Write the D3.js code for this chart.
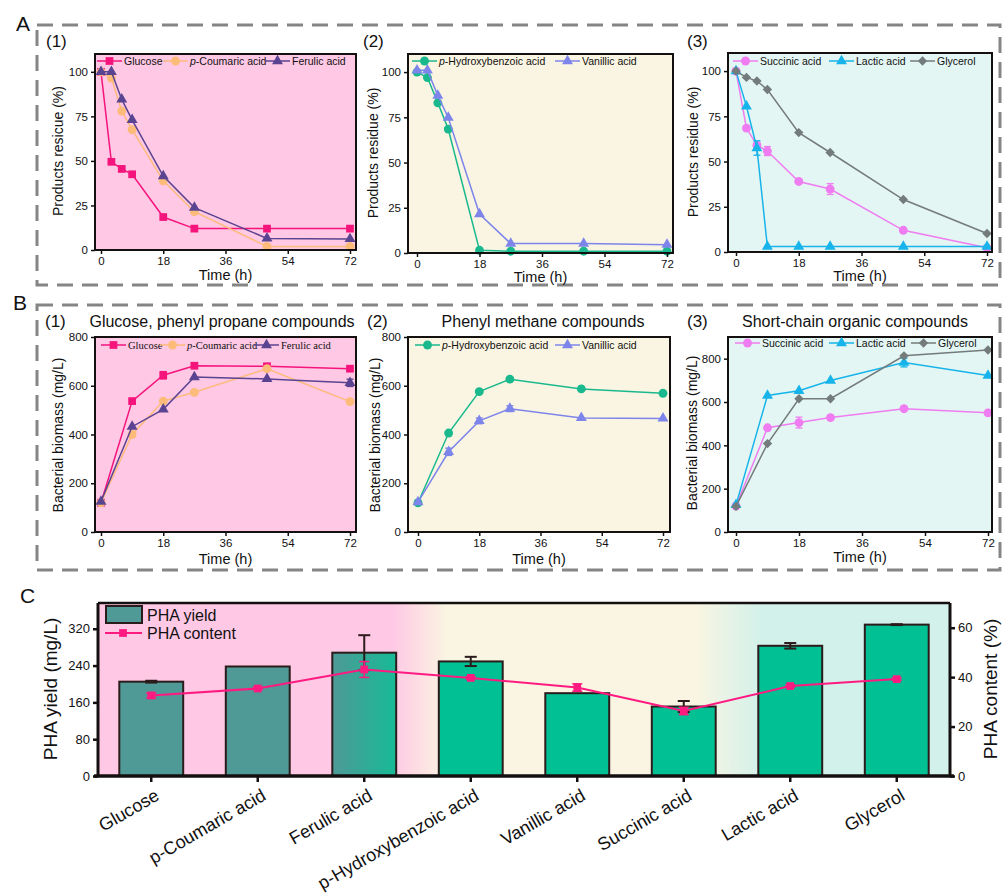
<!DOCTYPE html>
<html>
<head>
<meta charset="utf-8">
<script src="https://cdn.jsdelivr.net/npm/d3@7"></script>
<style>
  body { margin: 0; background: #fff; }
  svg text { font-family: "Liberation Sans", Arial, sans-serif; fill: #111; }
</style>
</head>
<body>
<svg id="fig" width="1005" height="894"></svg>
<script>
// time points (h)
const timesA = [0, 3, 6, 9, 18, 27, 48, 72];
const timesB = [0, 9, 18, 27, 48, 72];
const timeTicks = [0, 18, 36, 54, 72];

// substrate names
const names = ["Glucose", "p-Coumaric acid", "Ferulic acid", "p-Hydroxybenzoic acid",
               "Vanillic acid", "Succinic acid", "Lactic acid", "Glycerol"];

// A: products residue (%)
const resGlucose   = [100, 49.5, 45.5, 42.5, 18.5, 12, 12, 12];
const resCoumaric  = [100, 96.5, 78, 67.5, 38.8, 21.5, 2, 2];
const resFerulic   = [100, 100, 84.5, 73, 41.5, 23.8, 6.5, 6.2];
const resHydroxy   = [100, 97, 83, 68.5, 1.5, 1, 1, 1];
const resVanillic  = [101, 101, 87, 74.8, 21.5, 5.2, 5.2, 4.6];
const resSuccinic  = [100, 68.5, 59, 55.8, 39, 34.8, 12, 2.3];
const resSuccinicErr = [1.5, 1, 1.5, 2.5, 1, 3, 0.5, 0.5];
const resLactic    = [100, 80.5, 57.5, 3, 3, 3, 3, 3];
const resLacticErr = [0, 0, 4, 0, 0, 0, 0, 0];
const resGlycerol  = [100, 96.5, 94.5, 89.8, 66, 55, 29, 10.2];

// B: bacterial biomass (mg/L)
const bioGlucose    = [120, 537, 643, 682, 680, 670];
const bioGlucoseErr = [0, 0, 15, 0, 10, 0];
const bioCoumaric   = [120, 400, 537, 573, 670, 535];
const bioFerulic    = [125, 432, 503, 636, 628, 612];
const bioFerulicErr = [0, 0, 0, 0, 0, 15];
const bioHydroxy    = [120, 406, 576, 627, 587, 569];
const bioVanillic   = [123, 329, 456, 506, 468, 466];
const bioVanillicErr = [0, 15, 12, 12, 0, 0];
const bioSuccinic   = [120, 481, 505, 528, 569, 550];
const bioSuccinicErr = [0, 0, 25, 0, 0, 0];
const bioLactic     = [125, 630, 652, 699, 782, 722];
const bioLacticErr  = [0, 0, 0, 0, 20, 0];
const bioGlycerol   = [118, 408, 615, 615, 813, 840];

// C: PHA
const phaYield      = [205, 238, 268, 249, 180, 151, 283, 329];
const phaYieldErr   = [2, 0, 38, 10, 0, 12, 6, 1];
const phaContent    = [32.6, 35.4, 43.1, 39.7, 35.8, 26.3, 36.4, 39.2];
const phaContentErr = [1, 0.5, 3.2, 0.5, 1.5, 1.5, 0.5, 0.5];
const yieldTicks = [0, 80, 160, 240, 320];
const contentTicks = [0, 20, 40, 60];

const svg = d3.select("#fig");
const defs = svg.append("defs");

// colours per substrate
const col = {
  glucose: "#f5137c", coumaric: "#fdbb7a", ferulic: "#5a4390",
  hydroxy: "#19b98d", vanillic: "#7d84ea",
  succinic: "#ef7cf0", lactic: "#16b4ea", glycerol: "#737b7b"
};
const shapes = {
  square: d3.symbol().type(d3.symbolSquare).size(60)(),
  circle: d3.symbol().type(d3.symbolCircle).size(62)(),
  triangle: d3.symbol().type(d3.symbolTriangle).size(52)(),
  diamond: d3.symbol().type(d3.symbolSquare).size(44)()
};

function marker(g, shape, color, x, y) {
  g.append("path")
    .attr("d", shapes[shape])
    .attr("fill", color)
    .attr("transform", `translate(${x},${y})` + (shape === "diamond" ? " rotate(45)" : ""));
}

// name with italic "p"
function richName(sel, name) {
  if (name.startsWith("p-")) {
    sel.append("tspan").style("font-style", "italic").text("p");
    sel.append("tspan").text(name.slice(1));
  } else {
    sel.text(name);
  }
}

// dashed group boxes
[[37, 25, 963, 260], [37, 305, 963, 265]].forEach(b => {
  svg.append("rect")
    .attr("x", b[0]).attr("y", b[1]).attr("width", b[2]).attr("height", b[3])
    .attr("fill", "none").attr("stroke", "#858585")
    .attr("stroke-width", 3).attr("stroke-dasharray", "16,9");
});

// panel letters
[["A", 16, 31], ["B", 13, 310], ["C", 20, 603]].forEach(l => {
  svg.append("text").attr("x", l[1]).attr("y", l[2])
    .style("font-size", "21px").text(l[0]);
});

function linePanel(p) {
  const g = svg.append("g");
  const x = d3.scaleLinear().domain([0, 72]).range([p.x0, p.x72]);
  const y = d3.scaleLinear().domain(p.yDom).range([p.bottom, p.top]);

  g.append("rect")
    .attr("x", p.left).attr("y", p.top)
    .attr("width", p.right - p.left).attr("height", p.bottom - p.top)
    .attr("fill", p.bg);

  // series
  p.series.forEach(s => {
    const pts = p.times.map((t, i) => [t, s.values[i], s.err ? s.err[i] : 0]);
    g.append("path")
      .datum(pts)
      .attr("fill", "none").attr("stroke", s.color).attr("stroke-width", 1.5)
      .attr("d", d3.line().x(d => x(d[0])).y(d => y(d[1])));
    pts.filter(d => d[2] > 0).forEach(d => {
      const eg = g.append("g").attr("stroke", s.color).attr("stroke-width", 1.3);
      eg.append("line").attr("x1", x(d[0])).attr("x2", x(d[0]))
        .attr("y1", y(d[1] - d[2])).attr("y2", y(d[1] + d[2]));
      [d[1] - d[2], d[1] + d[2]].forEach(v => {
        eg.append("line").attr("x1", x(d[0]) - 3.5).attr("x2", x(d[0]) + 3.5)
          .attr("y1", y(v)).attr("y2", y(v));
      });
    });
    pts.forEach(d => marker(g, s.shape, s.color, x(d[0]), y(d[1])));
  });

  // frame
  g.append("rect")
    .attr("x", p.left).attr("y", p.top)
    .attr("width", p.right - p.left).attr("height", p.bottom - p.top)
    .attr("fill", "none").attr("stroke", "#151010").attr("stroke-width", 2);

  // axes
  const xa = g.append("g").attr("transform", `translate(0,${p.bottom})`)
    .call(d3.axisBottom(x).tickValues(timeTicks).tickSize(4).tickPadding(3));
  const ya = g.append("g").attr("transform", `translate(${p.left},0)`)
    .call(d3.axisLeft(y).tickValues(p.yTicks).tickSize(4).tickPadding(3));
  [xa, ya].forEach(a => {
    a.select(".domain").remove();
    a.selectAll(".tick line").attr("stroke", "#151010").attr("stroke-width", 1.5);
    a.selectAll("text").style("font-size", "11.5px")
      .style("font-family", '"Liberation Sans", Arial, sans-serif').attr("fill", "#111");
  });

  // labels
  g.append("text").attr("x", (p.left + p.right) / 2).attr("y", p.xlabY)
    .attr("text-anchor", "middle").style("font-size", "14.5px").text("Time (h)");
  g.append("text")
    .attr("transform", `translate(${p.ylx},${p.yly}) rotate(-90)`)
    .attr("text-anchor", "middle").attr("dy", "0.35em")
    .style("font-size", "14px").text(p.ylabel);
  g.append("text").attr("x", p.tx).attr("y", p.ty)
    .style("font-size", "17px").text(p.num);
  if (p.title) {
    g.append("text").attr("x", p.titleX).attr("y", p.ty)
      .attr("text-anchor", "middle").style("font-size", "16px").text(p.title);
  }

  // legend
  p.series.forEach((s, i) => {
    const lx = p.legendX[i];
    g.append("line").attr("x1", lx).attr("x2", lx + 25)
      .attr("y1", p.legendY).attr("y2", p.legendY)
      .attr("stroke", s.color).attr("stroke-width", 1.5);
    marker(g, s.shape, s.color, lx + 12.5, p.legendY);
    const t = g.append("text").attr("x", lx + 27).attr("y", p.legendY).attr("dy", "0.35em")
      .style("font-size", "10.5px");
    if (p.serif) t.style("font-family", '"Liberation Serif", "Times New Roman", serif');
    richName(t, s.name);
  });
}

const aCommon = { yDom: [0, 110], yTicks: [0, 25, 50, 75, 100], times: timesA,
                  ylabel: "Products residue (%)", ty: 47, legendY: 61 };
const bCommon = { times: timesB, ylabel: "Bacterial biomass (mg/L)", ty: 327,
                  legendY: 345, top: 337, bottom: 532 };

linePanel(Object.assign({}, aCommon, {
  left: 95, right: 356, top: 54, bottom: 250, x0: 101, x72: 350, bg: "#ffc8e5",
  ylabel: "Products resicue (%)", ylx: 58, yly: 151, tx: 46, num: "(1)", xlabY: 280,
  legendX: [97, 163, 265],
  series: [
    { name: names[0], values: resGlucose, color: col.glucose, shape: "square" },
    { name: names[1], values: resCoumaric, color: col.coumaric, shape: "circle" },
    { name: names[2], values: resFerulic, color: col.ferulic, shape: "triangle" }
  ]
}));
linePanel(Object.assign({}, aCommon, {
  left: 408, right: 673, top: 54, bottom: 253, x0: 417, x72: 667, bg: "#faf5e2",
  ylx: 373, yly: 153, tx: 363, num: "(2)", xlabY: 282,
  legendX: [412, 555],
  series: [
    { name: names[3], values: resHydroxy, color: col.hydroxy, shape: "circle" },
    { name: names[4], values: resVanillic, color: col.vanillic, shape: "triangle" }
  ]
}));
linePanel(Object.assign({}, aCommon, {
  left: 728, right: 992, top: 53, bottom: 252, x0: 736, x72: 987, bg: "#e4f6f3",
  ylx: 693, yly: 152, tx: 687, num: "(3)", xlabY: 281,
  legendX: [733, 829, 910],
  series: [
    { name: names[5], values: resSuccinic, err: resSuccinicErr, color: col.succinic, shape: "circle" },
    { name: names[6], values: resLactic, err: resLacticErr, color: col.lactic, shape: "triangle" },
    { name: names[7], values: resGlycerol, color: col.glycerol, shape: "diamond" }
  ]
}));

linePanel(Object.assign({}, bCommon, {
  left: 95, right: 356, x0: 101, x72: 350, yDom: [0, 800], yTicks: [0, 200, 400, 600, 800],
  bg: "#ffc8e5", ylx: 58, yly: 435, tx: 45, num: "(1)", xlabY: 564,
  title: "Glucose, phenyl propane compounds", titleX: 222, serif: true,
  legendX: [101, 160, 254],
  series: [
    { name: names[0], values: bioGlucose, err: bioGlucoseErr, color: col.glucose, shape: "square" },
    { name: names[1], values: bioCoumaric, color: col.coumaric, shape: "circle" },
    { name: names[2], values: bioFerulic, err: bioFerulicErr, color: col.ferulic, shape: "triangle" }
  ]
}));
linePanel(Object.assign({}, bCommon, {
  left: 408, right: 670, x0: 418, x72: 663, yDom: [0, 800], yTicks: [0, 200, 400, 600, 800],
  bg: "#faf5e2", ylx: 375, yly: 435, tx: 367, num: "(2)", xlabY: 564,
  title: "Phenyl methane compounds", titleX: 543,
  legendX: [415, 555],
  series: [
    { name: names[3], values: bioHydroxy, color: col.hydroxy, shape: "circle" },
    { name: names[4], values: bioVanillic, err: bioVanillicErr, color: col.vanillic, shape: "triangle" }
  ]
}));
linePanel(Object.assign({}, bCommon, {
  left: 728, right: 992, x0: 736, x72: 988, yDom: [0, 900], yTicks: [0, 200, 400, 600, 800],
  bg: "#e4f6f3", ylx: 692, yly: 433, tx: 687, num: "(3)", xlabY: 562,
  title: "Short-chain organic compounds", titleX: 855, legendY: 343,
  legendX: [735, 829, 911],
  series: [
    { name: names[5], values: bioSuccinic, err: bioSuccinicErr, color: col.succinic, shape: "circle" },
    { name: names[6], values: bioLactic, err: bioLacticErr, color: col.lactic, shape: "triangle" },
    { name: names[7], values: bioGlycerol, color: col.glycerol, shape: "diamond" }
  ]
}));

// ---------- panel C ----------
const cL = 98, cR = 950, cT = 603, cB = 776;
const xc = d3.scaleBand().domain(names).range([cL, cR]).paddingInner(0.4).paddingOuter(0.2);
const yLeft = d3.scaleLinear().domain([0, 376]).range([cB, cT]);
const yRight = d3.scaleLinear().domain([0, 70]).range([cB, cT]);

const bgGrad = defs.append("linearGradient").attr("id", "cbg")
  .attr("gradientUnits", "userSpaceOnUse").attr("x1", cL).attr("x2", cR).attr("y1", 0).attr("y2", 0);
[[0, "#ffc8e5"], [0.345, "#ffc8e5"], [0.41, "#faf5e2"], [0.7, "#faf5e2"], [0.78, "#d2f1ea"], [1, "#d2f1ea"]]
  .forEach(s => bgGrad.append("stop").attr("offset", s[0]).attr("stop-color", s[1]));
const ferGrad = defs.append("linearGradient").attr("id", "fer")
  .attr("x1", 0).attr("x2", 1).attr("y1", 0).attr("y2", 0);
[[0, "#4f9996"], [1, "#17ba96"]]
  .forEach(s => ferGrad.append("stop").attr("offset", s[0]).attr("stop-color", s[1]));

const gc = svg.append("g");
gc.append("rect").attr("x", cL).attr("y", cT).attr("width", cR - cL).attr("height", cB - cT)
  .attr("fill", "url(#cbg)");

const barFill = (d, i) => i < 2 ? "#4f9996" : (i === 2 ? "url(#fer)" : "#00c094");
gc.selectAll("rect.bar").data(names).enter().append("rect")
  .attr("class", "bar")
  .attr("x", d => xc(d)).attr("width", xc.bandwidth())
  .attr("y", (d, i) => yLeft(phaYield[i]))
  .attr("height", (d, i) => cB - yLeft(phaYield[i]))
  .attr("fill", barFill).attr("stroke", "#2b1b1b").attr("stroke-width", 2);

// yield error bars
names.forEach((d, i) => {
  if (!phaYieldErr[i]) return;
  const cx = xc(d) + xc.bandwidth() / 2;
  const eg = gc.append("g").attr("stroke", "#2b1b1b").attr("stroke-width", 2);
  eg.append("line").attr("x1", cx).attr("x2", cx)
    .attr("y1", yLeft(phaYield[i] - phaYieldErr[i])).attr("y2", yLeft(phaYield[i] + phaYieldErr[i]));
  [phaYield[i] - phaYieldErr[i], phaYield[i] + phaYieldErr[i]].forEach(v => {
    eg.append("line").attr("x1", cx - 6).attr("x2", cx + 6).attr("y1", yLeft(v)).attr("y2", yLeft(v));
  });
});

// content line
const contentColor = "#ff1a82";
const cpts = names.map((d, i) => [xc(d) + xc.bandwidth() / 2, phaContent[i], phaContentErr[i]]);
gc.append("path").datum(cpts)
  .attr("fill", "none").attr("stroke", contentColor).attr("stroke-width", 2)
  .attr("d", d3.line().x(d => d[0]).y(d => yRight(d[1])));
cpts.forEach(d => {
  const eg = gc.append("g").attr("stroke", contentColor).attr("stroke-width", 1.5);
  eg.append("line").attr("x1", d[0]).attr("x2", d[0])
    .attr("y1", yRight(d[1] - d[2])).attr("y2", yRight(d[1] + d[2]));
  [d[1] - d[2], d[1] + d[2]].forEach(v => {
    eg.append("line").attr("x1", d[0] - 5).attr("x2", d[0] + 5).attr("y1", yRight(v)).attr("y2", yRight(v));
  });
  marker(gc, "square", contentColor, d[0], yRight(d[1]));
});

// frame
gc.append("line").attr("x1", cL).attr("x2", cR).attr("y1", cT).attr("y2", cT)
  .attr("stroke", "#151010").attr("stroke-width", 2.5);
gc.append("line").attr("x1", cL).attr("x2", cL).attr("y1", cT).attr("y2", cB)
  .attr("stroke", "#151010").attr("stroke-width", 3);
gc.append("line").attr("x1", cR).attr("x2", cR).attr("y1", cT).attr("y2", cB)
  .attr("stroke", "#151010").attr("stroke-width", 3);
gc.append("line").attr("x1", cL - 4).attr("x2", cR + 4).attr("y1", cB).attr("y2", cB)
  .attr("stroke", "#151010").attr("stroke-width", 3.5);

// axes
const axL = gc.append("g").attr("transform", `translate(${cL},0)`)
  .call(d3.axisLeft(yLeft).tickValues(yieldTicks).tickSize(5).tickPadding(3));
const axR = gc.append("g").attr("transform", `translate(${cR},0)`)
  .call(d3.axisRight(yRight).tickValues(contentTicks).tickSize(5).tickPadding(3));
const axB = gc.append("g").attr("transform", `translate(0,${cB})`)
  .call(d3.axisBottom(xc).tickSize(6).tickFormat(""));
[axL, axR, axB].forEach(a => {
  a.select(".domain").remove();
  a.selectAll(".tick line").attr("stroke", "#151010").attr("stroke-width", 2.5);
  a.selectAll("text").style("font-size", "13px")
    .style("font-family", '"Liberation Sans", Arial, sans-serif').attr("fill", "#111");
});

// category labels, slanted
gc.selectAll("text.cat").data(names).enter().append("text")
  .attr("class", "cat")
  .attr("transform", d => `translate(${xc(d) + xc.bandwidth() / 2 + 3},788) rotate(-30)`)
  .attr("text-anchor", "end").attr("dy", "0.7em")
  .style("font-size", "18px").text(d => d);

// axis titles
gc.append("text").attr("transform", "translate(50,689) rotate(-90)")
  .attr("text-anchor", "middle").attr("dy", "0.35em").style("font-size", "19px").text("PHA yield (mg/L)");
gc.append("text").attr("transform", "translate(990,689) rotate(-90)")
  .attr("text-anchor", "middle").attr("dy", "0.35em").style("font-size", "19px").text("PHA content (%)");

// legend
gc.append("rect").attr("x", 106).attr("y", 606).attr("width", 36).attr("height", 17)
  .attr("fill", "#4f9996").attr("stroke", "#2b1b1b").attr("stroke-width", 2);
gc.append("text").attr("x", 147).attr("y", 615).attr("dy", "0.35em")
  .style("font-size", "16px").attr("fill", "#2b1b1b").text("PHA yield");
gc.append("line").attr("x1", 105).attr("x2", 142).attr("y1", 633).attr("y2", 633)
  .attr("stroke", contentColor).attr("stroke-width", 2);
marker(gc, "square", contentColor, 123, 633);
gc.append("text").attr("x", 147).attr("y", 633).attr("dy", "0.35em")
  .style("font-size", "16px").attr("fill", "#2b1b1b").text("PHA content");
</script>
</body>
</html>
